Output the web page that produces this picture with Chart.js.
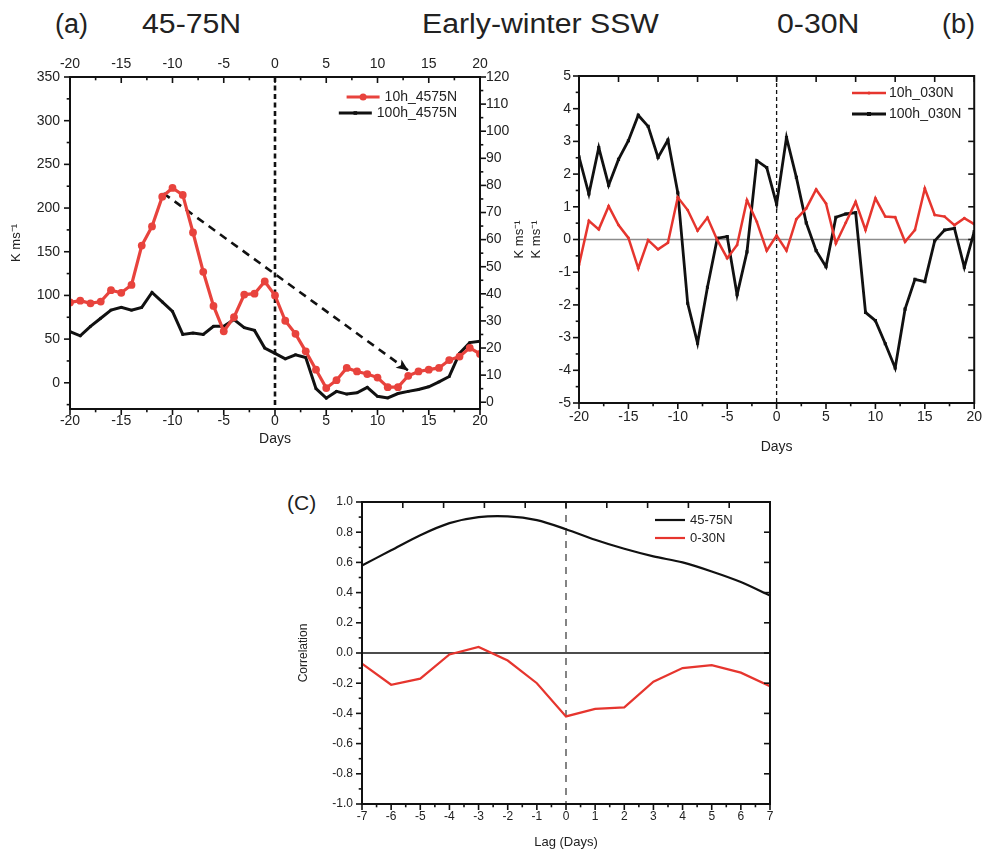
<!DOCTYPE html>
<html>
<head>
<meta charset="utf-8">
<script src="https://cdn.jsdelivr.net/npm/chart.js@4.4.0/dist/chart.umd.min.js"></script>
<style>
  html, body { margin: 0; padding: 0; background: #fff; }
  #page { position: relative; width: 988px; height: 852px; overflow: hidden; font-family: 'Liberation Sans', Arial, sans-serif; color: #222; }
  .panel { position: absolute; }
  .lbl { position: absolute; white-space: nowrap; font-size: 27px; line-height: 30px; color: #222; transform-origin: left center; transform: scaleX(1.12); }
</style>
</head>
<body>
<div id="page">
  <div class="lbl" style="left:55px; top:9px; transform:none;">(a)</div>
  <div class="lbl" style="left:142px; top:9px;">45-75N</div>
  <div class="lbl" style="left:422px; top:9px;">Early-winter SSW</div>
  <div class="lbl" style="left:777px; top:9px;">0-30N</div>
  <div class="lbl" style="left:942px; top:9px; transform:none;">(b)</div>
  <div class="lbl" style="left:287px; top:491px; font-size:21px; line-height:24px; transform:none;">(C)</div>

  <div class="panel" style="left:0; top:0;"><canvas id="chartA" width="530" height="460"></canvas></div>
  <div class="panel" style="left:500px; top:0;"><canvas id="chartB" width="488" height="460"></canvas></div>
  <div class="panel" style="left:250px; top:460px;"><canvas id="chartC" width="738" height="392"></canvas></div>
</div>
<script>
// ---- data ----
const days = [-20, -19, -18, -17, -16, -15, -14, -13, -12, -11, -10, -9, -8, -7, -6, -5, -4, -3, -2, -1,
              0, 1, 2, 3, 4, 5, 6, 7, 8, 9, 10, 11, 12, 13, 14, 15, 16, 17, 18, 19, 20];

// (a) 45-75N, 10 hPa on left axis, 100 hPa on right axis
const heat10_4575 = [92, 94, 91, 93, 106, 103, 112, 157, 179, 213, 223, 215, 172, 127, 88, 59, 75, 101, 102, 116,
                     100, 71, 56, 36, 15, -6, 3, 17, 13, 10, 6, -5, -5, 8, 13, 15, 17, 26, 30, 40, 33];
const heat100_4575 = [26, 24.5, 28, 31, 34, 35, 34, 35, 40.5, 37, 33.5, 25, 25.5, 25, 28, 28, 30.5, 27.5, 26.5, 20,
                      18, 16, 17.5, 16.5, 5, 1.5, 4, 3, 3.5, 5.5, 2.2, 1.6, 3.2, 4, 4.7, 5.7, 7.5, 9.5, 18, 22, 22.5];
const trendDays = [-10.9, 13];
const trendValues = [217, 14];

// (b) 0-30N
const heat10_030 = [-0.78, 0.57, 0.31, 1.02, 0.44, 0.05, -0.88, -0.02, -0.3, -0.1, 1.29, 0.9, 0.27, 0.67, -0.02, -0.57, -0.17, 1.2, 0.54, -0.34,
                    0.12, -0.34, 0.62, 0.95, 1.53, 1.1, -0.12, 0.51, 1.15, 0.29, 1.26, 0.7, 0.68, -0.07, 0.29, 1.56, 0.75, 0.7, 0.44, 0.65, 0.47];
const heat100_030 = [2.53, 1.39, 2.81, 1.66, 2.45, 3.02, 3.8, 3.46, 2.51, 3.04, 1.43, -1.95, -3.17, -1.46, 0.04, 0.09, -1.69, -0.38, 2.41, 2.2,
                     1.08, 3.12, 1.9, 0.51, -0.34, -0.83, 0.68, 0.78, 0.82, -2.23, -2.48, -3.19, -3.93, -2.13, -1.22, -1.29, -0.04, 0.29, 0.34, -0.85, 0.24];

// (c) lag correlation
const lags = [-7, -6, -5, -4, -3, -2, -1, 0, 1, 2, 3, 4, 5, 6, 7];
const corr4575 = [0.58, 0.68, 0.78, 0.86, 0.90, 0.905, 0.88, 0.82, 0.75, 0.69, 0.64, 0.60, 0.54, 0.47, 0.38];
const corr030 = [-0.07, -0.21, -0.17, -0.01, 0.04, -0.05, -0.2, -0.42, -0.37, -0.36, -0.19, -0.10, -0.08, -0.13, -0.22];

// tick labels
const dayTicks = [-20, -15, -10, -5, 0, 5, 10, 15, 20];
const leftTicksA = [0, 50, 100, 150, 200, 250, 300, 350];
const rightTicksA = [0, 10, 20, 30, 40, 50, 60, 70, 80, 90, 100, 110, 120];
const ticksB = [-5, -4, -3, -2, -1, 0, 1, 2, 3, 4, 5];
const lagTicks = [-7, -6, -5, -4, -3, -2, -1, 0, 1, 2, 3, 4, 5, 6, 7];
const corrTicks = [-1, -0.8, -0.6, -0.4, -0.2, 0, 0.2, 0.4, 0.6, 0.8, 1];

// ---- helpers ----
Chart.defaults.font.family = "'Liberation Sans', Arial, sans-serif";
Chart.defaults.color = '#222';

const RED = '#e6352e';
const RED_A = '#e8433d';
const BLACK = '#111111';

function pts(xs, ys) {
    return xs.map((x, i) => ({ x: x, y: ys[i] }));
}
function fix(n) {
    return function(scale) {
        if (scale.isHorizontal()) scale.height = n; else scale.width = n;
    };
}
function setTicks(list) {
    return function(scale) {
        scale.ticks = list.map(v => ({ value: v }));
    };
}
function plainAxis(extra) {
    return Object.assign({
        type: 'linear',
        grid: { display: false, drawTicks: false },
        border: { display: false }
    }, extra);
}

// frame, tick marks, reference lines, arrow head and legend
const decor = {
    id: 'decor',
    beforeDatasetsDraw(chart, args, opts) {
        const { ctx, chartArea: a } = chart;
        ctx.save();
        (opts.vlines || []).forEach(l => {
            const x = chart.scales[l.scale].getPixelForValue(l.value);
            ctx.beginPath();
            ctx.setLineDash(l.dash || []);
            ctx.lineWidth = l.width;
            ctx.strokeStyle = l.color;
            ctx.moveTo(x, a.top);
            ctx.lineTo(x, a.bottom);
            ctx.stroke();
        });
        (opts.hlines || []).forEach(l => {
            const y = chart.scales[l.scale].getPixelForValue(l.value);
            ctx.beginPath();
            ctx.setLineDash(l.dash || []);
            ctx.lineWidth = l.width;
            ctx.strokeStyle = l.color;
            ctx.moveTo(a.left, y);
            ctx.lineTo(a.right, y);
            ctx.stroke();
        });
        ctx.restore();
    },
    afterDatasetsDraw(chart, args, opts) {
        const { ctx, chartArea: a } = chart;
        ctx.save();
        ctx.setLineDash([]);
        ctx.strokeStyle = '#111';
        ctx.lineWidth = opts.frameWidth || 2;
        ctx.strokeRect(a.left, a.top, a.right - a.left, a.bottom - a.top);

        ctx.lineWidth = 1.6;
        (opts.marks || []).forEach(m => {
            const s = chart.scales[m.scale];
            const n = Math.round((m.to - m.from) / m.step);
            for (let i = 0; i <= n; i++) {
                const v = m.from + i * m.step;
                const r = v / m.major;
                const len = Math.abs(r - Math.round(r)) < 1e-6 ? m.len : m.len * 0.55;
                const sgn = m.out ? 1 : -1;
                const p = s.getPixelForValue(v);
                ctx.beginPath();
                if (m.edge === 'left') { ctx.moveTo(a.left, p); ctx.lineTo(a.left - sgn * len, p); }
                else if (m.edge === 'right') { ctx.moveTo(a.right, p); ctx.lineTo(a.right + sgn * len, p); }
                else if (m.edge === 'top') { ctx.moveTo(p, a.top); ctx.lineTo(p, a.top - sgn * len); }
                else { ctx.moveTo(p, a.bottom); ctx.lineTo(p, a.bottom + sgn * len); }
                ctx.stroke();
            }
        });

        if (opts.arrow) {
            const meta = chart.getDatasetMeta(opts.arrow.dataset);
            const p0 = meta.data[0];
            const p1 = meta.data[meta.data.length - 1];
            const ang = Math.atan2(p1.y - p0.y, p1.x - p0.x);
            const L = opts.arrow.size;
            ctx.fillStyle = BLACK;
            ctx.beginPath();
            ctx.moveTo(p1.x, p1.y);
            ctx.lineTo(p1.x - L * Math.cos(ang - 0.4), p1.y - L * Math.sin(ang - 0.4));
            ctx.lineTo(p1.x - L * 0.7 * Math.cos(ang), p1.y - L * 0.7 * Math.sin(ang));
            ctx.lineTo(p1.x - L * Math.cos(ang + 0.4), p1.y - L * Math.sin(ang + 0.4));
            ctx.closePath();
            ctx.fill();
        }

        (opts.legend || []).forEach(item => {
            ctx.font = item.font;
            ctx.fillStyle = '#222';
            ctx.textBaseline = 'middle';
            ctx.textAlign = 'left';
            const w = ctx.measureText(item.text).width;
            const tx = item.align === 'right' ? item.x - w : item.x;
            ctx.fillText(item.text, tx, item.y);
            const x1 = tx - item.gap - item.len;
            const x2 = tx - item.gap;
            ctx.strokeStyle = item.color;
            ctx.lineWidth = item.width;
            ctx.beginPath();
            ctx.moveTo(x1, item.y);
            ctx.lineTo(x2, item.y);
            ctx.stroke();
            const mx = (x1 + x2) / 2;
            ctx.fillStyle = item.color;
            if (item.marker === 'circle') {
                ctx.beginPath();
                ctx.arc(mx, item.y, item.size, 0, Math.PI * 2);
                ctx.fill();
            } else if (item.marker === 'rect') {
                ctx.fillRect(mx - item.size, item.y - item.size, item.size * 2, item.size * 2);
            }
        });
        ctx.restore();
    }
};

const common = {
    responsive: false,
    animation: false,
    events: []
};

// ---- (a) ----
new Chart(document.getElementById('chartA'), {
    type: 'line',
    data: {
        datasets: [
            { label: '10h_4575N', data: pts(days, heat10_4575), yAxisID: 'y', borderColor: RED_A, borderWidth: 3.2,
              pointRadius: 3.9, pointBackgroundColor: RED_A, pointBorderWidth: 0 },
            { label: '100h_4575N', data: pts(days, heat100_4575), yAxisID: 'y2', borderColor: BLACK, borderWidth: 3,
              pointStyle: 'rect', pointRadius: 1.8, pointBackgroundColor: BLACK, pointBorderWidth: 0 },
            { label: 'trend', data: pts(trendDays, trendValues), yAxisID: 'y', borderColor: BLACK, borderWidth: 2.6,
              borderDash: [8, 6], pointRadius: 0 }
        ]
    },
    options: Object.assign({}, common, {
        layout: { padding: { left: 0, top: 55, right: 5, bottom: 6 } },
        plugins: {
            legend: { display: false },
            tooltip: { enabled: false },
            decor: {
                vlines: [{ scale: 'x', value: 0, width: 2.6, dash: [5, 3.5], color: BLACK }],
                marks: [
                    { scale: 'y', edge: 'left', from: -25, to: 350, step: 25, major: 50, len: 6, out: true },
                    { scale: 'x', edge: 'bottom', from: -20, to: 20, step: 2.5, major: 5, len: 6, out: true },
                    { scale: 'x', edge: 'top', from: -20, to: 20, step: 2.5, major: 5, len: 6, out: false },
                    { scale: 'y2', edge: 'right', from: 0, to: 120, step: 5, major: 10, len: 6, out: true }
                ],
                arrow: { dataset: 2, size: 13 },
                legend: [
                    { text: '10h_4575N', x: 457, y: 97, align: 'right', font: '14px "Liberation Sans", Arial',
                      color: RED_A, width: 3, len: 33, gap: 5, marker: 'circle', size: 3.5 },
                    { text: '100h_4575N', x: 457, y: 113, align: 'right', font: '14px "Liberation Sans", Arial',
                      color: BLACK, width: 3, len: 33, gap: 5, marker: 'rect', size: 1.8 }
                ]
            }
        },
        scales: {
            x: plainAxis({ position: 'bottom', min: -20, max: 20, afterFit: fix(45), afterBuildTicks: setTicks(dayTicks),
                ticks: { padding: 4, font: { size: 14 } },
                title: { display: true, text: 'Days', padding: { top: 0, bottom: 6 }, font: { size: 14 } } }),
            x2: plainAxis({ position: 'top', min: -20, max: 20, afterFit: fix(22), afterBuildTicks: setTicks(dayTicks),
                ticks: { padding: 4, font: { size: 14 } } }),
            y: plainAxis({ position: 'left', min: -30, max: 350, afterFit: fix(70), afterBuildTicks: setTicks(leftTicksA),
                ticks: { padding: 10, font: { size: 14 } },
                title: { display: true, text: 'K ms\u207B\u00B9', padding: { top: 9, bottom: 0 }, font: { size: 13 } } }),
            y2: plainAxis({ position: 'right', min: -2.5, max: 120, afterFit: fix(45), afterBuildTicks: setTicks(rightTicksA),
                ticks: { padding: 6, font: { size: 14 } } })
        }
    }),
    plugins: [decor]
});

// ---- (b) ----
new Chart(document.getElementById('chartB'), {
    type: 'line',
    data: {
        datasets: [
            { label: '10h_030N', data: pts(days, heat10_030), borderColor: RED, borderWidth: 2.5,
              pointRadius: 1.4, pointBackgroundColor: RED, pointBorderWidth: 0 },
            { label: '100h_030N', data: pts(days, heat100_030), borderColor: BLACK, borderWidth: 2.8,
              pointStyle: 'rect', pointRadius: 2.2, pointBackgroundColor: BLACK, pointBorderWidth: 0 }
        ]
    },
    options: Object.assign({}, common, {
        layout: { padding: { left: 0, top: 76, right: 10, bottom: 0 } },
        plugins: {
            legend: { display: false },
            tooltip: { enabled: false },
            decor: {
                vlines: [{ scale: 'x', value: 0, width: 1.3, dash: [4, 3], color: BLACK }],
                hlines: [{ scale: 'y', value: 0, width: 1.6, color: '#8c8c8c' }],
                marks: [
                    { scale: 'y', edge: 'left', from: -5, to: 5, step: 0.5, major: 1, len: 6, out: true },
                    { scale: 'x', edge: 'bottom', from: -20, to: 20, step: 2.5, major: 5, len: 6, out: true },
                    { scale: 'x', edge: 'top', from: -20, to: 20, step: 4, major: 4, len: 6, out: false },
                    { scale: 'y', edge: 'right', from: -5, to: 5, step: 1, major: 1, len: 6, out: false }
                ],
                legend: [
                    { text: '10h_030N', x: 389, y: 93, align: 'left', font: '14px "Liberation Sans", Arial',
                      color: RED, width: 2.5, len: 34, gap: 3, marker: 'circle', size: 1.6 },
                    { text: '100h_030N', x: 389, y: 114, align: 'left', font: '14px "Liberation Sans", Arial',
                      color: BLACK, width: 2.8, len: 34, gap: 3, marker: 'rect', size: 2 }
                ]
            }
        },
        scales: {
            x: plainAxis({ position: 'bottom', min: -20, max: 20, afterFit: fix(57), afterBuildTicks: setTicks(dayTicks),
                ticks: { padding: 6, font: { size: 14 } },
                title: { display: true, text: 'Days', padding: { top: 0, bottom: 4 }, font: { size: 14 } } }),
            y: plainAxis({ position: 'left', min: -5, max: 5, afterFit: fix(79), afterBuildTicks: setTicks(ticksB),
                ticks: { padding: 8, font: { size: 14 } },
                title: { display: true, text: ['K ms\u207B\u00B9', 'K ms\u207B\u00B9'], padding: { top: 11, bottom: 0 },
                         font: { size: 13, lineHeight: 1.3 } } })
        }
    }),
    plugins: [decor]
});

// ---- (c) ----
new Chart(document.getElementById('chartC'), {
    type: 'line',
    data: {
        datasets: [
            { label: '45-75N', data: pts(lags, corr4575), borderColor: BLACK, borderWidth: 2.2, pointRadius: 0, tension: 0.3 },
            { label: '0-30N', data: pts(lags, corr030), borderColor: RED, borderWidth: 2.2, pointRadius: 0 }
        ]
    },
    options: Object.assign({}, common, {
        layout: { padding: { left: 0, top: 42, right: 218, bottom: 0 } },
        plugins: {
            legend: { display: false },
            tooltip: { enabled: false },
            decor: {
                vlines: [{ scale: 'x', value: 0, width: 1.2, dash: [7, 6], color: '#333' }],
                hlines: [{ scale: 'y', value: 0, width: 1.6, color: BLACK }],
                marks: [
                    { scale: 'y', edge: 'left', from: -1, to: 1, step: 0.1, major: 0.2, len: 6, out: true },
                    { scale: 'x', edge: 'bottom', from: -7, to: 7, step: 0.5, major: 1, len: 6, out: true },
                    { scale: 'x', edge: 'top', from: -7, to: 7, step: 1.4, major: 1.4, len: 6, out: false },
                    { scale: 'y', edge: 'right', from: -1, to: 1, step: 0.2, major: 0.2, len: 6, out: false }
                ],
                legend: [
                    { text: '45-75N', x: 440, y: 60, align: 'left', font: '13px "Liberation Sans", Arial',
                      color: BLACK, width: 2.2, len: 30, gap: 5 },
                    { text: '0-30N', x: 440, y: 78, align: 'left', font: '13px "Liberation Sans", Arial',
                      color: RED, width: 2.2, len: 30, gap: 5 }
                ]
            }
        },
        scales: {
            x: plainAxis({ position: 'bottom', min: -7, max: 7, afterFit: fix(48), afterBuildTicks: setTicks(lagTicks),
                ticks: { padding: 5, font: { size: 12 } },
                title: { display: true, text: 'Lag (Days)', padding: { top: 0, bottom: 2 }, font: { size: 13 } } }),
            y: plainAxis({ position: 'left', min: -1, max: 1, afterFit: fix(112), afterBuildTicks: setTicks(corrTicks),
                ticks: { padding: 9, font: { size: 12 }, callback: v => v.toFixed(1) },
                title: { display: true, text: 'Correlation', padding: { top: 46, bottom: 0 }, font: { size: 12 } } })
        }
    }),
    plugins: [decor]
});
</script>
</body>
</html>
